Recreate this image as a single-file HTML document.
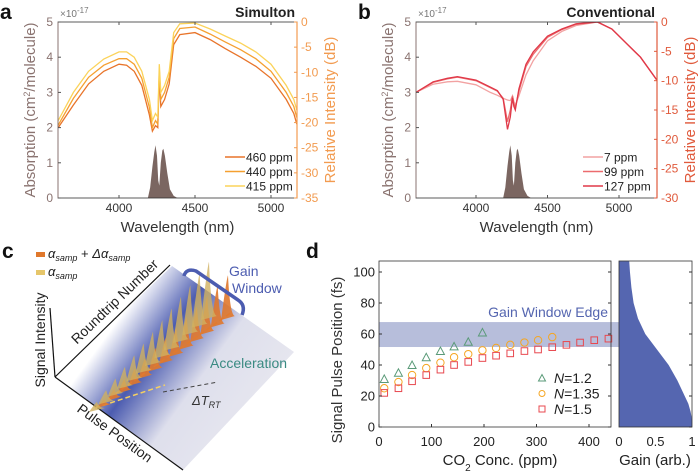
<!DOCTYPE html>
<html><head><meta charset="utf-8"><style>
body{margin:0;background:#fff}
svg{display:block;font-family:"Liberation Sans",sans-serif}
</style></head><body>
<svg id="fig" width="700" height="473" viewBox="0 0 700 473" xmlns="http://www.w3.org/2000/svg">
<defs>
<linearGradient id="plane" gradientUnits="userSpaceOnUse" x1="160" y1="262" x2="292" y2="358">
<stop offset="0" stop-color="#ffffff"/><stop offset="0.3" stop-color="#4c5cb0"/><stop offset="0.62" stop-color="#dedfec"/><stop offset="1" stop-color="#e6e6ef"/>
</linearGradient>
</defs>
<g id="pa"></g>
<g id="pb"></g>
<g id="pc"></g>
<g id="pd"></g>
</svg>
<script>
const NS="http://www.w3.org/2000/svg";
function mk(p,tag,at,txt){const e=document.createElementNS(NS,tag);for(const k in at)e.setAttribute(k,at[k]);if(txt!==undefined)e.textContent=txt;p.appendChild(e);return e;}

// ---- data panel a ----
const aWl=[3600,3700,3800,3900,4000,4050,4100,4150,4200,4220,4240,4255,4265,4275,4300,4330,4360,4400,4500,4600,4700,4800,4900,5000,5100,5150,5170];
const a415=[-19.6,-14,-9.8,-7.35,-5.95,-5.95,-7,-9.8,-15.4,-19.6,-18.2,-18.9,-8.4,-14,-12.6,-9.8,-2.1,-0.35,-0.2,-1.4,-2.8,-4.2,-5.95,-8.4,-12.6,-15.4,-17.5];
const a440=[-20.5,-15.2,-11,-8.6,-7.3,-7.3,-8.4,-11.2,-17,-21,-19.6,-20.3,-9.5,-15.4,-14,-11,-3.3,-1.3,-1.0,-2.4,-4,-5.5,-7.3,-9.8,-14,-16.8,-19];
const a460=[-21,-16.5,-12.3,-9.8,-8.4,-8.6,-9.8,-12.6,-18.5,-21.7,-20.6,-21,-10.5,-16.8,-15.4,-12.3,-4.5,-2.5,-2.1,-3.5,-5.3,-7,-8.8,-11.2,-15.4,-18.2,-20.3];
const absWl=[4190,4205,4220,4232,4240,4250,4258,4265,4275,4285,4292,4302,4318,4335,4360,4385];
const absVal=[0,0.3,0.9,1.3,1.5,1.2,0.5,0.35,1.0,1.35,1.4,1.2,0.7,0.25,0.06,0];
// ---- data panel b ----
const bWl=[3580,3700,3800,3870,4000,4100,4150,4190,4220,4240,4255,4265,4275,4300,4350,4400,4500,4600,4700,4850,4950,5050,5150,5265];
const b127=[-12,-10.2,-9.6,-9.3,-9.9,-11.1,-11.7,-13.2,-18.3,-16.2,-12.9,-14.4,-15,-11.4,-7.2,-5.1,-2.4,-1.2,-0.3,0,-1.2,-3.6,-6,-9.9];
const b99=[-12,-10.3,-9.7,-9.4,-10,-11.2,-11.8,-13,-17,-15,-12.6,-14,-14.6,-11.8,-7.6,-5.5,-2.6,-1.3,-0.4,0,-1.2,-3.6,-6,-9.9];
const b7=[-12,-10.6,-10.2,-10.1,-10.7,-12,-12.5,-13.0,-13.3,-13.4,-12.6,-13.6,-14.2,-12.6,-9,-6.6,-3.2,-1.6,-0.6,0,-1.2,-3.6,-6,-9.9];
const leftTicks=[0,1,2,3,4,5];
const aRightTicks=[0,-5,-10,-15,-20,-25,-30,-35];
const bRightTicks=[0,-5,-10,-15,-20,-25,-30];
const wlTicks=[4000,4500,5000];
// ---- data panel d ----
const conc12=[10,37,63,90,117,143,170,197];
const val12=[31,35,40,45,49,52,55,61];
const conc135=[10,37,63,90,117,143,170,197,223,250,277,303,330];
const val135=[25,29,33.5,38,41.5,45,47,49.5,51,53,54.5,56,58];
const conc15=[10,37,63,90,117,143,170,197,223,250,277,303,330,357,383,410,437];
const val15=[22,25,29.5,33.5,37,40,42,44.5,46,47.5,49,50,51.5,53,54.5,56,57];
const gainFs=[0,5,10,15,20,30,40,50,60,70,80,90,100,107];
const gainVal=[1,1,0.98,0.95,0.9,0.8,0.68,0.52,0.36,0.26,0.2,0.17,0.15,0.14];
const band=[51.6,67.7];
const dYTicks=[0,20,40,60,80,100];
const dXTicks=[0,100,200,300,400];
const gTicks=[0,0.5,1];
const gTickLabels=["0","0.5","1"];

function spectrum(g,o){
  const X=w=>o.x0+(w-o.w0)*o.kx, YL=v=>198-v*35.2, YR=d=>22+(-d)*(176/o.dbMax);
  mk(g,"clipPath",{id:o.id+"clip"});
  const cp=g.lastChild; mk(cp,"rect",{x:o.L,y:22,width:o.R-o.L,height:176});
  let d="M"+X(absWl[0])+","+YL(0);absWl.forEach((w,i)=>d+=" L"+X(w)+","+YL(absVal[i]));d+="Z";
  const ab=mk(g,"path",{d,fill:"#7b6661"});  
  o.series.forEach(s=>{
    const p=mk(g,"path",{d:s.v.map((v,i)=>(i?"L":"M")+X(o.wl[i]).toFixed(1)+","+YR(v).toFixed(1)).join(" "),fill:"none",stroke:s.c,"stroke-width":1.3,"clip-path":"url(#"+o.id+"clip)"});
     
  });
  const fr=mk(g,"rect",{x:o.L,y:22,width:o.R-o.L,height:176,fill:"none",stroke:"#333","stroke-width":0.8});
   
  mk(g,"line",{x1:o.R,y1:22,x2:o.R,y2:198,stroke:o.rc,"stroke-width":1.2});
  mk(g,"line",{x1:o.L,y1:22,x2:o.L,y2:198,stroke:"#8a7370","stroke-width":1});
  leftTicks.forEach(v=>{mk(g,"line",{x1:o.L,x2:o.L+3,y1:YL(v),y2:YL(v),stroke:"#555"});
    const t=mk(g,"text",{x:o.L-5,y:YL(v)+4,"text-anchor":"end","font-size":12,fill:"#8a7370"},v);  });
  o.rt.forEach(v=>{mk(g,"line",{x1:o.R,x2:o.R-3,y1:YR(v),y2:YR(v),stroke:o.rc});
    const t=mk(g,"text",{x:o.R+4,y:YR(v)+4,"font-size":12,fill:o.rc},v);  });
  wlTicks.forEach(w=>{mk(g,"line",{x1:X(w),x2:X(w),y1:198,y2:195,stroke:"#555"});mk(g,"line",{x1:X(w),x2:X(w),y1:22,y2:25,stroke:"#555"});
    const t=mk(g,"text",{x:X(w),y:212,"text-anchor":"middle","font-size":12,fill:"#333"},w);  });
  let t=mk(g,"text",{x:(o.L+o.R)/2,y:232,"text-anchor":"middle","font-size":15,fill:"#333"},"Wavelength (nm)");  
  t=mk(g,"text",{transform:`translate(${o.L-23},110) rotate(-90)`,"text-anchor":"middle","font-size":15,fill:"#8a7370"}); t.innerHTML='Absorption (cm<tspan baseline-shift="super" font-size="9">2</tspan>/molecule)';  
  t=mk(g,"text",{transform:`translate(${o.R+38},110) rotate(-90)`,"text-anchor":"middle","font-size":15,fill:o.rc},"Relative Intensity (dB)");  
  t=mk(g,"text",{x:o.L+2,y:17,"font-size":10,fill:"#777"}); t.innerHTML='×10<tspan baseline-shift="super" font-size="8">-17</tspan>';  
  t=mk(g,"text",{x:o.R-2,y:17,"text-anchor":"end","font-size":14,"font-weight":"bold",fill:"#222"},o.title);  
  t=mk(g,"text",{x:o.L-58,y:19,"font-size":21,"font-weight":"bold",fill:"#111"},o.letter);  
  o.series.forEach((s,i)=>{const y=o.legY[i];
    const l=mk(g,"g",{});  
    mk(l,"line",{x1:o.legX,x2:o.legX+20,y1:y,y2:y,stroke:s.c,"stroke-width":1.5});
    mk(l,"text",{x:o.legX+21,y:y+4.5,"font-size":12,fill:"#222"},s.lab);});
}
spectrum(document.getElementById("pa"),{id:"a",x0:119,w0:4000,kx:0.152,L:58,R:297,dbMax:35,rc:"#f29b50",rt:aRightTicks,wl:aWl,
  series:[{v:a460,c:"#e8742a",n:"line-460ppm",lab:"460 ppm"},{v:a440,c:"#f5a030",n:"line-440ppm",lab:"440 ppm"},{v:a415,c:"#fbd35a",n:"line-415ppm",lab:"415 ppm"}],
  legX:225,legY:[157,171.5,186],title:"Simulton",letter:"a"});
spectrum(document.getElementById("pb"),{id:"b",x0:476,w0:4000,kx:0.143,L:416,R:657,dbMax:30,rc:"#e05a3c",rt:bRightTicks,wl:bWl,
  series:[{v:b7,c:"#f2a2a2",n:"line-7ppm",lab:"7 ppm"},{v:b99,c:"#ec6b6e",n:"line-99ppm",lab:"99 ppm"},{v:b127,c:"#e03848",n:"line-127ppm",lab:"127 ppm"}],
  legX:583,legY:[157,171.5,186],title:"Conventional",letter:"b"});

// ---- panel d ----
(function(){
  const g=document.getElementById("pd");
  const L=379,R=611,T=261,B=427;
  const X=c=>L+c*0.525, Y=f=>B-f*1.55, GX=v=>619+v*73;
  const bd=mk(g,"rect",{x:L,y:Y(band[1]),width:R-L,height:Y(band[0])-Y(band[1]),fill:"#b7bedb"});  
  const bd2=mk(g,"rect",{x:611,y:Y(band[1]),width:8,height:Y(band[0])-Y(band[1]),fill:"#b7bedb"});
   
  let d="M"+GX(0)+","+Y(0);gainFs.forEach((f,i)=>d+=" L"+GX(gainVal[i])+","+Y(f));d+=" L"+GX(0)+","+Y(107)+"Z";
  const gc=mk(g,"path",{d,fill:"#5566b0"});  
  let t=mk(g,"text",{x:608,y:317,"text-anchor":"end","font-size":14,fill:"#5566b0"},"Gain Window Edge");  
  conc12.forEach((c,i)=>{const p=mk(g,"path",{d:`M${X(c)-4},${Y(val12[i])+3.5} L${X(c)+4},${Y(val12[i])+3.5} L${X(c)},${Y(val12[i])-4} Z`,fill:"none",stroke:"#5a9a78","stroke-width":1});  });
  conc135.forEach((c,i)=>{const p=mk(g,"circle",{cx:X(c),cy:Y(val135[i]),r:3.7,fill:"none",stroke:"#f5a623","stroke-width":1});  });
  conc15.forEach((c,i)=>{const p=mk(g,"rect",{x:X(c)-3.3,y:Y(val15[i])-3.3,width:6.6,height:6.6,fill:"none",stroke:"#e8484f","stroke-width":1});  });
  const f1=mk(g,"rect",{x:L,y:T,width:R-L,height:B-T,fill:"none",stroke:"#333","stroke-width":0.8});  
  const f2=mk(g,"rect",{x:619,y:T,width:73,height:B-T,fill:"none",stroke:"#333","stroke-width":0.8});  
  dYTicks.forEach(v=>{mk(g,"line",{x1:L,x2:L+3,y1:Y(v),y2:Y(v),stroke:"#333"});mk(g,"line",{x1:R,x2:R-3,y1:Y(v),y2:Y(v),stroke:"#333"});
    mk(g,"line",{x1:692,x2:689,y1:Y(v),y2:Y(v),stroke:"#333"});
    const t=mk(g,"text",{x:L-4,y:Y(v)+4.5,"text-anchor":"end","font-size":13,fill:"#222"},v);  });
  dXTicks.forEach(v=>{mk(g,"line",{x1:X(v),x2:X(v),y1:B,y2:B-3,stroke:"#333"});
    const t=mk(g,"text",{x:X(v),y:446,"text-anchor":"middle","font-size":13,fill:"#222"},v);  });
  gTicks.forEach((v,i)=>{const t=mk(g,"text",{x:GX(v),y:446,"text-anchor":"middle","font-size":13,fill:"#222"},gTickLabels[i]);  });
  t=mk(g,"text",{x:500,y:465,"text-anchor":"middle","font-size":15,fill:"#222"}); t.innerHTML='CO<tspan baseline-shift="sub" font-size="10">2</tspan> Conc. (ppm)';  
  t=mk(g,"text",{x:655,y:465,"text-anchor":"middle","font-size":15,fill:"#222"},"Gain (arb.)");  
  t=mk(g,"text",{transform:"translate(342,360) rotate(-90)","text-anchor":"middle","font-size":15,fill:"#333"},"Signal Pulse Position (fs)");  
  t=mk(g,"text",{x:306,y:258,"font-size":21,"font-weight":"bold",fill:"#111"},"d");  
  const legs=[["N=1.2","#5a9a78","tri"],["N=1.35","#f5a623","circ"],["N=1.5","#e8484f","sq"]];
  legs.forEach((l,i)=>{const y=378+i*15.5;const e=mk(g,"g",{});  
    if(l[2]=="tri")mk(e,"path",{d:`M${542-3.5},${y+3} L${542+3.5},${y+3} L542,${y-3.5}Z`,fill:"none",stroke:l[1]});
    else if(l[2]=="circ")mk(e,"circle",{cx:542,cy:y,r:3,fill:"none",stroke:l[1]});
    else mk(e,"rect",{x:539,y:y-3,width:6,height:6,fill:"none",stroke:l[1]});
    const tx=mk(e,"text",{x:554,y:y+5,"font-size":14,fill:"#222"}); tx.innerHTML='<tspan font-style="italic">N</tspan>'+l[0].slice(1);});
})();

// ---- panel c (schematic) ----
const pulseH=[6,10,14,18,22,26,30,34,38,42,46,50,54];
(function(){
  const g=document.getElementById("pc");
  const pl=mk(g,"path",{d:"M55,377 L172,266 L294,352 L183,470 Z",fill:"url(#plane)"});  
  const ax=[["M50,308 L55,377","signal-axis"],["M55,377 L170,265","roundtrip-axis"],["M55,377 L183,470","pulse-axis"]];
  ax.forEach(a=>{const l=mk(g,"path",{d:a[0],stroke:"#111","stroke-width":1.2,fill:"none"});  });
  const dl=mk(g,"path",{d:"M163,392 L218,382",stroke:"#444","stroke-dasharray":"4,3",fill:"none"});  
  const ol=mk(g,"path",{d:"M95,408 L232,312",stroke:"#f08a3a","stroke-width":1.5,"stroke-dasharray":"5,3",fill:"none"});  
  const yl=mk(g,"path",{d:"M95,408 L165,385",stroke:"#f6d060","stroke-width":1.5,"stroke-dasharray":"5,3",fill:"none"});  
  pulseH.forEach((h,i)=>{const n=pulseH.length-1,f=i/n;
    const ox=104+f*124, oy=404-f*88, yx=97+f*112, yy=408-f*92;
    const o=mk(g,"path",{d:`M${ox-7},${oy+4} Q${ox-1},${oy-h*0.75} ${ox},${oy-h*0.75} Q${ox+2},${oy} ${ox+7},${oy}Z`,fill:"#e0782c",opacity:0.9});  
    const y=mk(g,"path",{d:`M${yx-8},${yy+4} Q${yx-1},${yy-h} ${yx},${yy-h} Q${yx+2},${yy} ${yx+8},${yy}Z`,fill:"#cfb060",opacity:0.8});  
  });
  const br=mk(g,"path",{d:"M184,276 Q186,268 196,271 L238,300 Q246,305 242,315",stroke:"#4c5cb0","stroke-width":3.5,fill:"none"});  
  const T=(x,y,s,c,txt,n,extra)=>{const t=mk(g,"text",Object.assign({x,y,"font-size":s,fill:c},extra||{})); t.innerHTML=txt;   return t;};
  T(2,258,21,"#111","<tspan font-weight='bold'>c</tspan>","panel-letter");
  mk(g,"rect",{x:36,y:252,width:9,height:5,fill:"#e0782c"});
  mk(g,"rect",{x:36,y:270,width:9,height:5,fill:"#e6c66a"});
  T(48,258,13,"#222","<tspan font-style='italic'>α</tspan><tspan font-style='italic' font-size='9' dy='3'>samp</tspan><tspan dy='-3'> + </tspan><tspan font-style='italic'>Δα</tspan><tspan font-style='italic' font-size='9' dy='3'>samp</tspan>","legend-orange");
  T(48,276,13,"#222","<tspan font-style='italic'>α</tspan><tspan font-style='italic' font-size='9' dy='3'>samp</tspan>","legend-yellow");
  T(229,276,14,"#4c5cb0","Gain","gain-label");
  T(232,293,14,"#4c5cb0","Window","window-label");
  T(210,368,14,"#3a8a82","Acceleration","acceleration-label");
  T(192,405,13,"#333","<tspan font-style='italic'>ΔT</tspan><tspan font-style='italic' font-size='9' dy='3'>RT</tspan>","delta-t-label");
  T(0,0,14,"#222","Signal Intensity","signal-intensity-title",{transform:"translate(45,340) rotate(-90)","text-anchor":"middle"});
  T(0,0,14,"#222","Roundtrip Number","roundtrip-title",{transform:"translate(118,305) rotate(-44)","text-anchor":"middle"});
  T(0,0,14,"#222","Pulse Position","pulse-position-title",{transform:"translate(112,437) rotate(36)","text-anchor":"middle"});
})();
</script>
</body></html>
